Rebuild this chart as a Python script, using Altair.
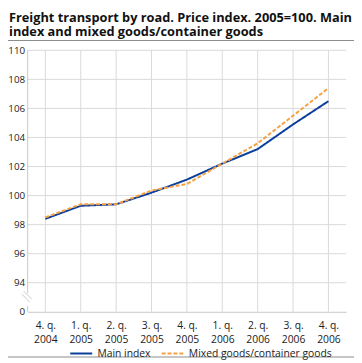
import altair as alt
import pandas as pd

quarters = ["4. q.|2004", "1. q.|2005", "2. q.|2005", "3. q.|2005", "4. q.|2005",
            "1. q.|2006", "2. q.|2006", "3. q.|2006", "4. q.|2006"]
main_index = [98.4, 99.3, 99.4, 100.2, 101.1, 102.2, 103.2, 104.9, 106.5]
mixed_goods = [98.5, 99.4, 99.4, 100.35, 100.8, 102.2, 103.6, 105.5, 107.4]
series_names = ["Main index", "Mixed goods/container goods"]
y_ticks = [92, 94, 96, 98, 100, 102, 104, 106, 108, 110]
grid_y = [94, 96, 98, 100, 102, 104, 106, 108, 110]

rows = []
for q, a, b in zip(quarters, main_index, mixed_goods):
    rows.append({"quarter": q, "value": a, "series": series_names[0]})
    rows.append({"quarter": q, "value": b, "series": series_names[1]})
df = pd.DataFrame(rows)

W, H = 324, 266
PL, PT, PR, PB = 20, 40, 8, 47
FONT = "Open Sans"
GRID = "#d9d9d9"

x_scale = alt.Scale(type="point", padding=0.5, domain=quarters)
x_axis = alt.Axis(title=None, labelAngle=0, labelExpr="split(datum.label, '|')",
                  grid=False, ticks=False, domain=True,
                  domainColor="#c8c8c8", labelFont=FONT, labelFontSize=10.5,
                  labelColor="#222", labelPadding=9, labelLineHeight=14,
                  labelOverlap=False)
y_scale = alt.Scale(domain=[92, 110], nice=False, zero=False)
y_axis = alt.Axis(title=None, values=y_ticks, grid=False,
                  ticks=False, domain=False, labelFont=FONT, labelFontSize=10,
                  labelColor="#222", labelPadding=3, labelOverlap=False,
                  labelExpr="datum.value == 92 ? '0' : datum.label")

leg = alt.Legend(title=None, orient="none", direction="horizontal",
                 legendX=42, legendY=296, symbolType="stroke",
                 symbolSize=500, symbolStrokeWidth=2,
                 labelFont=FONT, labelFontSize=10.5, labelColor="#222",
                 columnPadding=6, labelOffset=4)

hgrid = alt.Chart(pd.DataFrame({"g": grid_y})).mark_rule(color=GRID, strokeWidth=1).encode(
    y=alt.Y("g:Q", scale=y_scale, axis=y_axis),
    x=alt.value(0), x2=alt.value(W),
)
vgrid = alt.Chart(pd.DataFrame({"q": quarters})).mark_rule(color=GRID, strokeWidth=1).encode(
    x=alt.X("q:N", scale=x_scale, axis=x_axis),
    y=alt.value(0), y2=alt.value(H),
)

lines = alt.Chart(df).mark_line(strokeWidth=2).encode(
    x=alt.X("quarter:N", scale=x_scale, axis=x_axis),
    y=alt.Y("value:Q", scale=y_scale, axis=y_axis),
    color=alt.Color("series:N", sort=series_names,
                    scale=alt.Scale(domain=series_names, range=["#0b3f9e", "#f7a040"]),
                    legend=leg),
    strokeDash=alt.StrokeDash("series:N", sort=series_names,
                              scale=alt.Scale(domain=series_names, range=[[1, 0], [4, 2]]),
                              legend=leg),
)

brk = pd.DataFrame({"k": [0]})
y_axis_top = alt.Chart(brk).mark_rule(color="#c8c8c8", strokeWidth=1).encode(
    x=alt.value(0), y=alt.value(0), y2=alt.value(247))
y_axis_bot = alt.Chart(brk).mark_rule(color="#c8c8c8", strokeWidth=1).encode(
    x=alt.value(0), y=alt.value(260), y2=alt.value(H))
break1 = alt.Chart(brk).mark_rule(color="#c8c8c8", strokeWidth=1).encode(
    x=alt.value(-6), x2=alt.value(2), y=alt.value(248), y2=alt.value(256))
break2 = alt.Chart(brk).mark_rule(color="#c8c8c8", strokeWidth=1).encode(
    x=alt.value(-4), x2=alt.value(4), y=alt.value(245), y2=alt.value(253))

top_rule = alt.Chart(brk).mark_rule(color="#8a8a8a", strokeWidth=1).encode(
    x=alt.value(-PL), x2=alt.value(W + PR), y=alt.value(-10))
bottom_rule = alt.Chart(brk).mark_rule(color="#8a8a8a", strokeWidth=1).encode(
    x=alt.value(-PL), x2=alt.value(W + PR), y=alt.value(H + PB - 1))

chart = alt.layer(hgrid, vgrid, y_axis_top, y_axis_bot, break1, break2,
                  top_rule, bottom_rule, lines).properties(
    width=W, height=H,
    title=alt.TitleParams(
        text=["Freight transport by road. Price index. 2005=100. Main",
              "index and mixed goods/container goods"],
        anchor="start", frame="group", dx=-PL + 1, offset=1.5,
        font=FONT, fontSize=13, fontWeight="bold", color="#111", lineHeight=14),
    autosize=alt.AutoSizeParams(type="none"),
    padding={"left": PL, "top": PT, "right": PR, "bottom": PB},
).configure_view(stroke=None)

chart.save("out.html", embed_options={"renderer": "svg", "actions": False})
